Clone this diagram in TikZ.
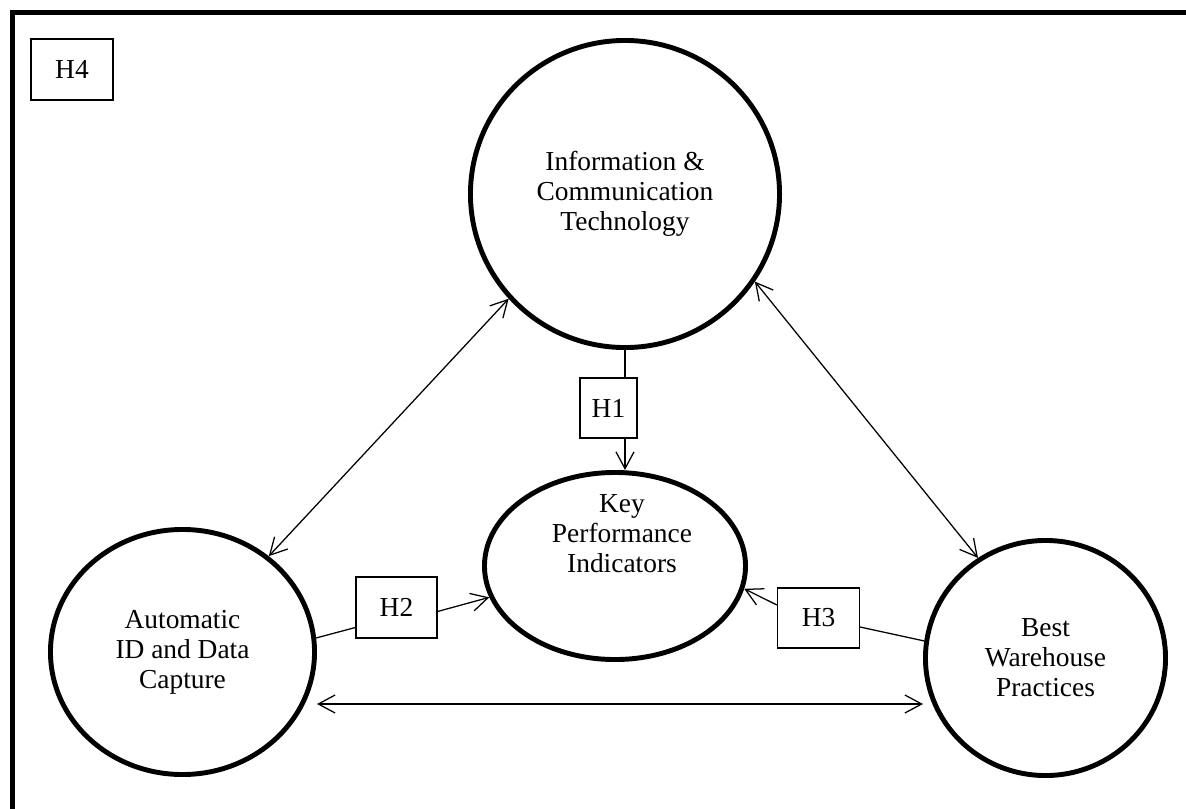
\documentclass[tikz,border=0pt]{standalone}
\usepackage{fontspec}
\setmainfont{Liberation Serif}
\usetikzlibrary{shapes.geometric,arrows.meta,calc}
\begin{document}
\begin{tikzpicture}[x=0.025cm,y=-0.025cm,
  txt/.style={font=\fontsize{19.5}{21.3}\selectfont, align=center, inner sep=0pt},
  bubble/.style={draw, ellipse, line width=3.5pt, inner sep=0pt},
  hbox/.style={draw, rectangle, line width=0.8pt, inner sep=0pt, font=\fontsize{19.5}{21.3}\selectfont},
  conn/.style={line width=0.9pt},
  arr/.style={conn, -{Straight Barb[length=0.42cm,width=0.45cm]}},
  dbl/.style={conn, {Straight Barb[length=0.42cm,width=0.45cm]}-{Straight Barb[length=0.42cm,width=0.45cm]}}]
\useasboundingbox (0,0) rectangle (1186,809);
\draw[line width=3.56pt] (12.5,809) -- (12.5,12.5) -- (1186,12.5);

\node[bubble, minimum width=7.725cm, minimum height=7.675cm] (ict) at (625,194) {};
\node[txt] (ictt) at (ict.center) {Information \&\\Communication\\Technology};
\node[bubble, minimum width=6.6cm, minimum height=6.125cm] (aidc) at (182.5,652) {};
\node[txt] (aidct) at (aidc.center) {Automatic\\ID and Data\\Capture};
\node[bubble, minimum width=6.0cm, minimum height=5.875cm] (bwp) at (1045.5,658) {};
\node[txt] (bwpt) at (bwp.center) {Best\\Warehouse\\Practices};
\node[bubble, minimum width=6.525cm, minimum height=4.675cm] (kpi) at (615,566) {};
\node[txt] (kpit) at (622,534) {Key\\Performance\\Indicators};

\node[hbox, minimum width=2.05cm, minimum height=1.525cm] (h4) at (72,69.5) {H4};
\node[hbox, minimum width=1.425cm, minimum height=1.5cm] (h1) at (608.5,408) {H1};
\node[hbox, minimum width=2.025cm, minimum height=1.525cm] (h2) at (396.5,607.5) {H2};
\node[hbox, minimum width=2.05cm, minimum height=1.5cm] (h3) at (818.5,618) {H3};

\draw[conn] (ict.south) -- (ict.south |- h1.north);
\draw[arr] (ict.south |- h1.south) -- (ict.south |- kpi.north);
\draw[conn] (aidc.6) -- ($(h2.west)+(0,20)$);
\draw[arr] ($(h2.east)+(0,4)$) -- (kpi.194);
\draw[conn] (bwp.172) -- ($(h3.east)+(0,9)$);
\draw[arr] ($(h3.west)+(0,-13)$) -- (kpi.350);

\draw[dbl] (aidc.48) -- (ict.222);
\draw[dbl] (ict.-34) -- (bwp.124);
\draw[dbl] ($(aidc.east)+(0,52)$) -- ($(bwp.west)+(0,46)$);
\end{tikzpicture}
\end{document}
